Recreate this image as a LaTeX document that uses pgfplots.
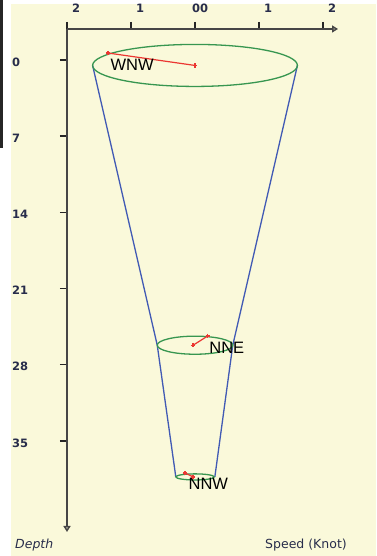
\documentclass[border=0pt]{standalone}
\usepackage{pgfplots}
\pgfplotsset{compat=1.18}
\usetikzlibrary{arrows.meta}
\usepackage{fontspec}
\setmainfont{DejaVu Sans}
\newfontfamily\labfont{Liberation Sans}
\definecolor{bgyellow}{RGB}{250,249,218}
\definecolor{axgray}{RGB}{70,70,70}
\definecolor{txtdark}{RGB}{40,45,75}
\definecolor{ellgreen}{RGB}{55,150,80}
\definecolor{coneblue}{RGB}{65,90,180}
\definecolor{vecred}{RGB}{235,55,50}
\begin{document}
\begin{tikzpicture}
\fill[white] (-67pt,-24pt) rectangle (309pt,532pt);
\fill[bgyellow] (-56pt,-24pt) rectangle (309pt,528pt);
\fill[black!85] (-67pt,384pt) rectangle (-64pt,532pt);
\begin{axis}[
  at={(0pt,0pt)}, anchor=south west,
  scale only axis, width=271pt, height=503pt,
  xmin=-2.0, xmax=2.234, ymin=-43.36, ymax=2.848,
  axis x line=top, axis y line=left,
  x axis line style={-{Triangle[open,length=6pt,width=7pt]}},
  y axis line style={{Triangle[open,length=6pt,width=7pt]}-},
  axis line style={axgray, line width=1.6pt},
  tick align=outside, major tick length=7pt,
  tick style={black!85, line width=1.4pt},
  xtick={-2,-1,0,1,2},
  xticklabels={2,1,\llap{0}0,1,2},
  ytick={0,-7,-14,-21,-28,-35},
  yticklabels={0,7,14,21,28,35},
  xticklabel style={anchor=south west, inner sep=0pt, xshift=5pt, yshift=9pt, text=txtdark, font=\bfseries\fontsize{11.5}{11.5}\selectfont},
  yticklabel style={anchor=west, inner sep=0pt, xshift=-48pt, yshift=-2pt, text=txtdark, font=\bfseries\fontsize{11.5}{11.5}\selectfont},
  clip=false,
]
% cone outline
\addplot[coneblue, line width=1.3pt, no marks] coordinates {(-1.60,-0.5) (-0.59,-26.2) (-0.30,-38.3)};
\addplot[coneblue, line width=1.3pt, no marks] coordinates {(1.60,-0.5) (0.59,-26.2) (0.31,-38.3)};
% ellipses
\draw[ellgreen, line width=1.3pt] (axis cs:0,-0.5) ellipse [x radius=1.60, y radius=1.93];
\draw[ellgreen, line width=1.3pt] (axis cs:0,-26.2) ellipse [x radius=0.59, y radius=0.83];
\draw[ellgreen, line width=1.3pt] (axis cs:0,-38.3) ellipse [x radius=0.30, y radius=0.28];
% current vectors
\addplot[vecred, line width=1.2pt, mark=+, mark size=2.2pt] coordinates {(0,-0.5) (-1.36,0.64)}
  node[pos=1, anchor=north west, inner sep=0pt, xshift=2pt, yshift=-6pt, text=black, font=\labfont\fontsize{16.5}{16.5}\selectfont] {WNW};
\addplot[vecred, line width=1.2pt, mark=+, mark size=2.2pt] coordinates {(-0.03,-26.2) (0.20,-25.35)}
  node[pos=1, anchor=north west, inner sep=0pt, xshift=1pt, yshift=-6pt, text=black, font=\labfont\fontsize{16.5}{16.5}\selectfont] {NNE};
\addplot[vecred, line width=1.2pt, mark=+, mark size=2.2pt] coordinates {(-0.03,-38.3) (-0.156,-37.94)}
  node[pos=1, anchor=north west, inner sep=0pt, xshift=3pt, yshift=-5pt, text=black, font=\labfont\fontsize{16.5}{16.5}\selectfont] {NNW};
\end{axis}
\node[anchor=base west, inner sep=0pt, text=txtdark, font=\itshape\fontsize{12.5}{12.5}\selectfont] at (-52pt,-17pt) {Depth};
\node[anchor=base west, inner sep=0pt, text=txtdark, font=\fontsize{12.5}{12.5}\selectfont] at (198pt,-17pt) {Speed (Knot)};
\pgfresetboundingbox
\path[use as bounding box] (-67pt,-24pt) rectangle (309pt,532pt);
\end{tikzpicture}
\end{document}
